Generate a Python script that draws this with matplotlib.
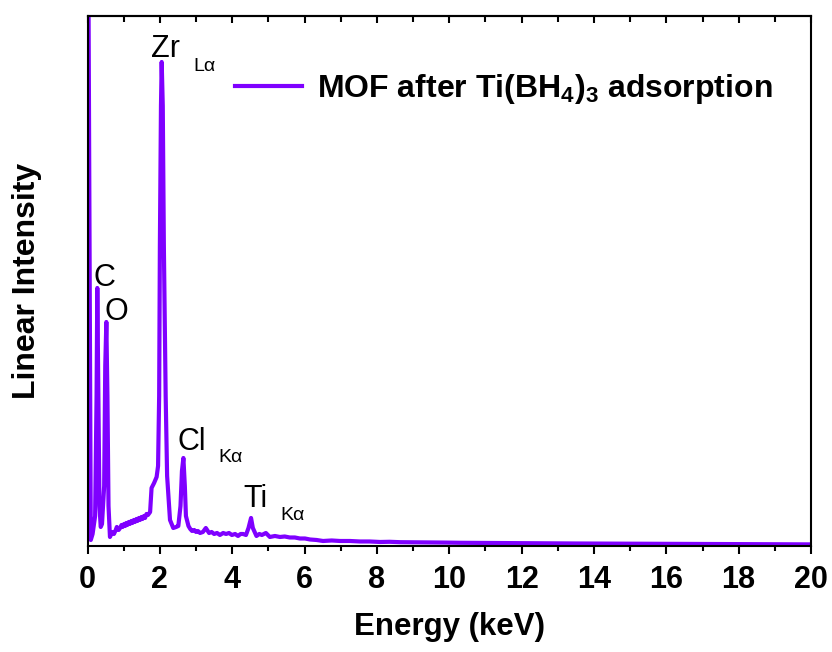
import matplotlib
matplotlib.use("Agg")
import matplotlib.pyplot as plt
from matplotlib.ticker import MultipleLocator, NullLocator

plt.rcParams['font.family'] = ['Liberation Sans', 'DejaVu Sans']
plt.rcParams['mathtext.fontset'] = 'custom'
plt.rcParams['mathtext.rm'] = 'Liberation Sans:bold'
plt.rcParams['mathtext.default'] = 'rm'

# EDS spectrum (energy keV, intensity arb. units)
energy = [0.01, 0.09, 0.14, 0.21, 0.25, 0.27, 0.30, 0.33, 0.365, 0.40, 0.46, 0.49,
          0.52, 0.55, 0.58, 0.62, 0.68, 0.73, 0.78, 0.81, 0.86, 0.90, 0.94, 0.97,
          1.01, 1.04, 1.07, 1.10, 1.14, 1.17, 1.21, 1.24, 1.28, 1.31, 1.35, 1.38,
          1.42, 1.45, 1.49, 1.52, 1.56, 1.59, 1.63, 1.67, 1.73, 1.77, 1.84, 1.91,
          1.95, 1.98, 2.00, 2.03, 2.05, 2.08, 2.11, 2.16, 2.20, 2.28, 2.37, 2.45,
          2.51, 2.57, 2.61, 2.65, 2.69, 2.72, 2.79, 2.84, 2.89, 2.95, 3.00, 3.05,
          3.11, 3.19, 3.27, 3.36, 3.43, 3.50, 3.58, 3.66, 3.75, 3.83, 3.91, 3.99,
          4.08, 4.16, 4.23, 4.30, 4.38, 4.45, 4.52, 4.57, 4.67, 4.75, 4.82, 4.93,
          5.04, 5.18, 5.32, 5.45, 5.59, 5.73, 5.87, 6.01, 6.15, 6.33, 6.51, 6.75,
          6.98, 7.25, 7.53, 7.80, 8.09, 8.35, 8.64, 9.05, 9.47, 9.90, 10.3, 10.9,
          11.4, 12.1, 12.8, 13.5, 14.2, 14.9, 15.5, 16.2, 16.9, 17.6, 18.3, 19.2,
          20.0]
intensity = [700, 6, 12, 30, 150, 258, 150, 40, 19, 22, 60, 180,
             224, 150, 40, 9, 14, 12, 16, 19, 16, 18, 21, 19,
             22, 20, 23, 21, 24, 22, 25, 23, 26, 24, 27, 25,
             28, 26, 29, 27, 30, 28, 32, 31, 34, 58, 63, 69,
             80, 150, 300, 440, 484, 440, 300, 150, 70, 26, 18, 19,
             20, 40, 75, 88, 60, 30, 20, 17, 15, 16, 14, 15,
             13, 14, 18, 13, 14, 12, 13, 11, 13, 12, 13, 11,
             12, 10, 12, 12, 11, 18, 28, 18, 10, 12, 11, 13,
             9, 10, 9, 9.5, 8.5, 8.5, 7.5, 7.5, 6.5, 6, 5, 5.5,
             5, 5, 4.5, 4.5, 4, 4.2, 3.8, 3.7, 3.5, 3.4, 3.2, 3.1,
             3, 2.8, 2.6, 2.5, 2.4, 2.3, 2.2, 2.1, 2, 1.9, 1.8, 1.7,
             1.6]

series_label = r'MOF after Ti(BH$_4$)$_3$ adsorption'
xticks = [0, 2, 4, 6, 8, 10, 12, 14, 16, 18, 20]

# peak annotations: (main text, x, y, subscript, sx, sy)
peak_labels = [
    ("C", 0.152, 260, "", 0, 0),
    ("O", 0.456, 226, "", 0, 0),
    ("Zr", 1.755, 489, "Lα", 2.92, 475),
    ("Cl", 2.50, 96, "Kα", 3.61, 84),
    ("Ti", 4.30, 39, "Kα", 5.32, 26),
]

color = '#7F00FF'

fig = plt.figure(figsize=(8.32, 6.52), dpi=100)
ax = fig.add_axes([0.1052, 0.1626, 0.8696, 0.8129])

ax.plot(energy, intensity, color=color, lw=3.0, label=series_label,
        solid_joinstyle='round')

ax.set_xlim(0, 20)
ax.set_ylim(0, 530)
ax.set_xticks(xticks)
ax.xaxis.set_minor_locator(MultipleLocator(1))
ax.yaxis.set_major_locator(NullLocator())
ax.yaxis.set_minor_locator(NullLocator())

for s in ax.spines.values():
    s.set_linewidth(1.5)

ax.tick_params(axis='x', which='major', direction='out', length=6, width=1.5,
               pad=8, labelsize=22)
ax.tick_params(axis='x', which='minor', direction='out', length=3.5, width=1.5)
for lab in ax.get_xticklabels():
    lab.set_fontweight('bold')

# mirrored top ticks pointing inward
secx = ax.secondary_xaxis('top')
secx.set_xticks(xticks)
secx.xaxis.set_minor_locator(MultipleLocator(1))
secx.tick_params(axis='x', which='major', direction='in', length=5, width=1.5,
                 labeltop=False)
secx.tick_params(axis='x', which='minor', direction='in', length=4, width=1.5)
secx.spines['top'].set_linewidth(1.5)

ax.set_xlabel('Energy (keV)', fontsize=22.5, fontweight='bold', labelpad=12)
ax.set_ylabel('Linear Intensity', fontsize=23, fontweight='bold', labelpad=33)

for main, x, y, sub, sx, sy in peak_labels:
    ax.text(x, y, main, fontsize=22, ha='left', va='baseline')
    if sub:
        ax.text(sx, sy, sub, fontsize=14, ha='left', va='baseline')

ax.legend(loc='center left', bbox_to_anchor=(0.204, 0.862), frameon=False,
          borderpad=0, borderaxespad=0, handlelength=2.1, handletextpad=0.45,
          prop={'size': 23, 'weight': 'bold'})

fig.savefig('out.png', dpi=100)
